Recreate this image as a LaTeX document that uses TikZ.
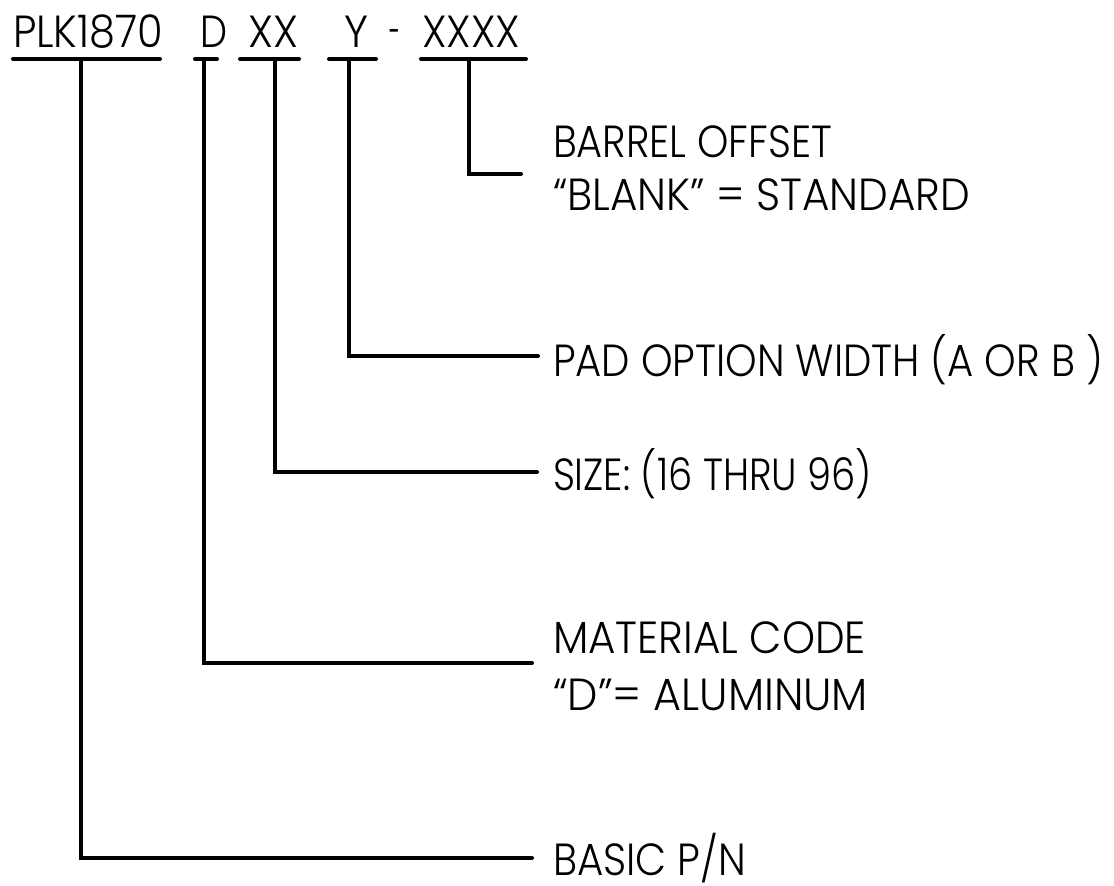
\documentclass[tikz,border=0pt]{standalone}
\usepackage{fontspec}
\setmainfont{Poppins Light}
\usepackage{graphicx}
\newcommand{\fw}[2]{\resizebox{#1pt}{\height}{#2}}
\begin{document}
\begin{tikzpicture}[x=1pt,y=-1pt,
  wire/.style={line width=4pt,line cap=round,line join=miter},
  txt/.style={inner sep=0pt,outer sep=0pt,anchor=base west,font=\fontsize{45}{45}\selectfont}]
\useasboundingbox (0,0) rectangle (1114,886);
% code segments
\node[txt] (plk)  at (13,47)  {\fw{150}{PLK1870}};
\node[txt] (d)    at (200,47) {\fw{27}{D}};
\node[txt] (xx)   at (248,47) {\fw{50}{XX}};
\node[txt] (y)    at (344,47) {\fw{24}{Y}};
\node[txt] (dash) at (389,47) {\fw{11}{-}};
\node[txt] (xxxx) at (422,47) {\fw{98}{XXXX}};
% underlines
\draw[wire] (13,59) -- (160,59);
\draw[wire] (195,59) -- (217,59);
\draw[wire] (240,59) -- (299,59);
\draw[wire] (329,59) -- (376,59);
\draw[wire] (421,59) -- (526,59);
% junctions on underlines
\coordinate (jplk) at (81,59);
\coordinate (jd)   at (204,59);
\coordinate (jxx)  at (275,59);
\coordinate (jy)   at (349,59);
\coordinate (jx4)  at (469,59);
% leader ends
\coordinate (ebar) at (521,174);
\coordinate (epad) at (538,356);
\coordinate (esiz) at (537,472);
\coordinate (emat) at (532,663);
\coordinate (ebas) at (532,858);
% labels
\node[txt] (l1a) at (553,157) {\fw{279}{BARREL OFFSET}};
\node[txt] (l1b) at (553,210) {\fw{417}{“BLANK” = STANDARD}};
\node[txt] (l2)  at (553,376) {\fw{550}{PAD OPTION WIDTH (A OR B )}};
\node[txt] (l3)  at (553,490) {\fw{319}{SIZE: (16 THRU 96)}};
\node[txt] (l4a) at (553,653) {\fw{313}{MATERIAL CODE}};
\node[txt] (l4b) at (553,710) {\fw{315}{“D”= ALUMINUM}};
\node[txt] (l5)  at (553,875) {\fw{193}{BASIC P/N}};
% connectors
\draw[wire] (jx4)  |- (ebar);
\draw[wire] (jy)   |- (epad);
\draw[wire] (jxx)  |- (esiz);
\draw[wire] (jd)   |- (emat);
\draw[wire] (jplk) |- (ebas);
\end{tikzpicture}
\end{document}
